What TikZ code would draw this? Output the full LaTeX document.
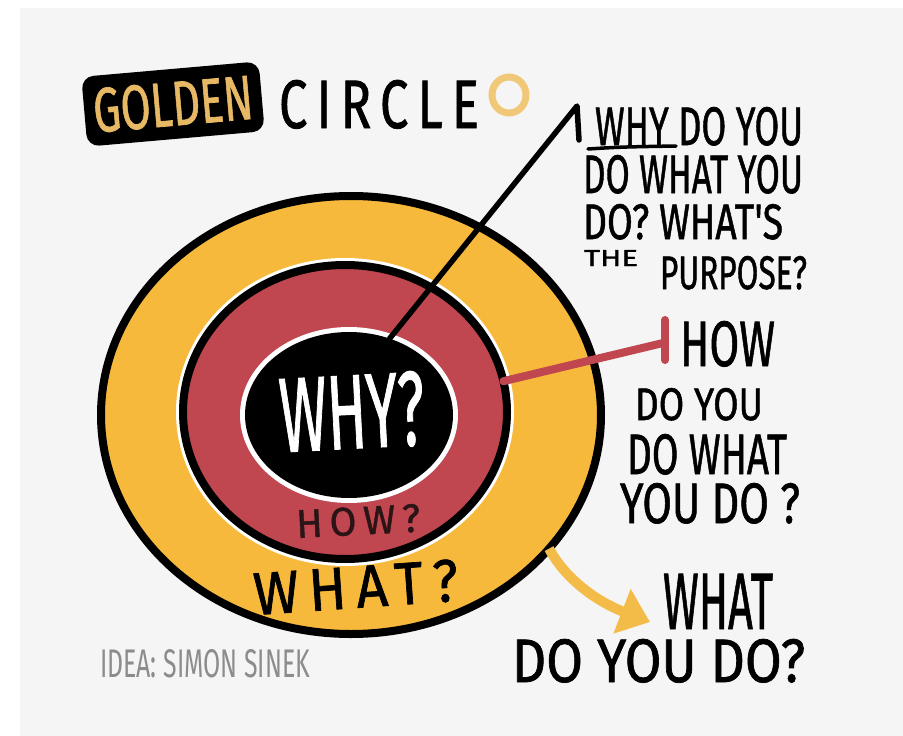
\documentclass[tikz,border=0pt]{standalone}
\usepackage{fontspec}
\usepackage{graphicx}
\usetikzlibrary{shapes.geometric,arrows.meta}
\newfontfamily\hand{Fira Sans}[FakeBold=1.2]
\newfontfamily\handwide{Fira Sans}[FakeBold=1.2, LetterSpace=18]
\newfontfamily\handthin{Fira Sans}

\definecolor{paper}{HTML}{F5F5F5}
\definecolor{band}{HTML}{F6B93B}
\definecolor{wine}{HTML}{C04650}
\definecolor{titlegold}{HTML}{E8B964}
\definecolor{ringgold}{HTML}{F0C878}
\definecolor{arrowgold}{HTML}{F3BC48}
\definecolor{credit}{HTML}{8C8C8C}
\definecolor{howink}{HTML}{2A1416}

% marker-style lettering squeezed to an exact width and cap height
\newcommand\hwmid[3]{\resizebox{#1pt}{#2pt}{\hand #3}}
\newcommand\hwwide[3]{\resizebox{#1pt}{#2pt}{\handwide #3}}
\newcommand\hwthin[3]{\resizebox{#1pt}{#2pt}{\handthin #3}}

\tikzset{
  hw/.style={inner sep=0pt, outer sep=0pt, anchor=base west},
  ring/.style={ellipse, inner sep=0pt, outer sep=0pt},
  whyline/.style={draw=black, line width=5.5pt, line cap=round, line join=round},
  howline/.style={draw=wine, line width=8pt, line cap=round, line join=round},
  whatarrow/.style={draw=arrowgold, line width=10pt,
    -{Triangle[length=30pt,width=46pt]}},
}

\begin{document}
\begin{tikzpicture}[x=1pt,y=-1pt]
\useasboundingbox (0,0) rectangle (903,736);
\fill[white] (0,0) rectangle (903,736);
\fill[paper] (20,8) rectangle (903,736);

% ---- title ----
\node[fill=black, rounded corners=12pt, rotate=5, minimum width=178pt,
      minimum height=70pt, inner sep=0pt, text=titlegold] (golden) at (173,104)
      {\hwmid{160}{44}{GOLDEN}};
\node[hw] (circle) at (279,128) {\hwwide{200}{48}{CIRCLE}};
\node[ring, draw=ringgold, line width=7pt, minimum width=34pt, minimum height=36pt]
      (o) at (509,95) {};

% ---- the three rings ----
\node[ring, fill=band, draw=black, line width=8pt,
      minimum width=500pt, minimum height=438pt] (what) at (351,415) {};
\node[ring, fill=white, minimum width=338pt, minimum height=308pt] (howhalo) at (345,412) {};
\node[ring, fill=wine, draw=black, line width=8pt,
      minimum width=324pt, minimum height=294pt] (how) at (345,412) {};
\node[ring, fill=white, minimum width=218pt, minimum height=176pt] (whyhalo) at (349,415) {};
\node[ring, fill=black, minimum width=208pt, minimum height=166pt] (why) at (349,415) {};

% ---- ring labels ----
\node[text=white, rotate=3, inner sep=0pt] (whylabel) at (352,412) {\hwmid{145}{74}{WHY?}};
\node[hw, text=howink, rotate=3] (howlabel) at (297,538) {\hwwide{124}{28}{HOW?}};
\node[hw, rotate=4] (whatlabel) at (255,615) {\hwwide{205}{42}{WHAT?}};

% ---- connectors ----
\coordinate (whytop) at (577,106);
\coordinate (whybot) at (579,140);
\draw[whyline] (why.62) -- (whytop) -- (whybot);

\coordinate (howend) at (663,343);
\coordinate (howtickT) at (665,320);
\coordinate (howtickB) at (665,360);
\draw[howline] (how.11) -- (howend);
\draw[howline] (howtickT) -- (howtickB);

\coordinate (whattip) at (650,622);
\draw[whatarrow] (what.-34) .. controls (566,580) and (598,602) .. (whattip);

% ---- WHY text ----
\node[hw] (why1) at (595,145) {\hwmid{208}{38}{WHY DO YOU}};
\draw[line width=3.5pt, line cap=round] (588,149) .. controls (620,147) .. (676,146);
\node[hw] (why2) at (583,193) {\hwmid{220}{38}{DO WHAT YOU}};
\node[hw] (why3) at (583,239) {\hwmid{200}{35}{DO? WHAT'S}};
\node[hw] (why4a) at (584,266) {\hwmid{54}{16}{THE}};
\node[hw] (why4b) at (660,289) {\hwmid{147}{33}{PURPOSE?}};

% ---- HOW text ----
\node[hw] (how1) at (680,366) {\hwmid{95}{45}{HOW}};
\node[hw] (how2) at (635,420) {\hwmid{128}{32}{DO YOU}};
\node[hw] (how3) at (627,474) {\hwmid{160}{40}{DO WHAT}};
\node[hw] (how4) at (620,523) {\hwmid{180}{40}{YOU DO ?}};

% ---- WHAT text ----
\node[hw] (what1) at (663,629) {\hwmid{110}{55}{WHAT}};
\node[hw] (what2) at (512,682) {\hwmid{293}{43}{DO YOU DO?}};

% ---- credit ----
\node[hw, text=credit] (credit) at (100,677) {\hwthin{210}{28}{IDEA: SIMON SINEK}};
\end{tikzpicture}
\end{document}
